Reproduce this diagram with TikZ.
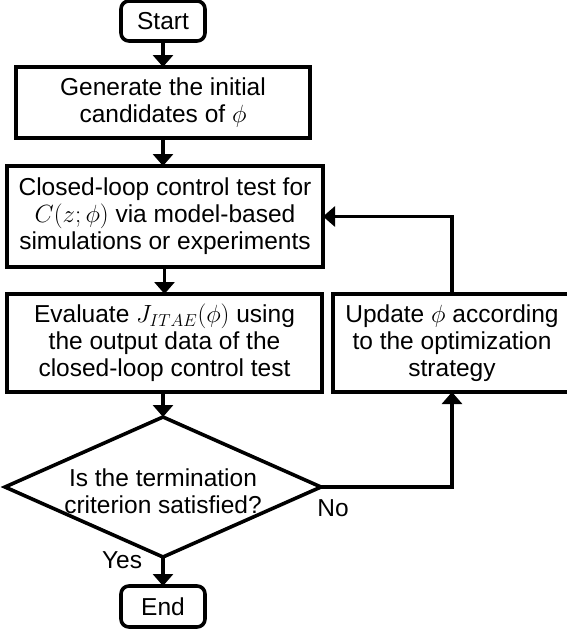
\documentclass[tikz,border=0pt]{standalone}
\usepackage{fontspec}
\setmainfont{Liberation Sans}
\usetikzlibrary{arrows.meta,shapes.geometric}
\begin{document}
\begin{tikzpicture}[x=1pt,y=-1pt,
  txt/.style={font=\fontsize{24.5}{27}\selectfont},
  box/.style={draw,line width=3.6pt,inner sep=0pt,outer sep=0pt,align=center,txt},
  term/.style={box,rounded corners=8pt},
  dec/.style={draw,diamond,line width=3.6pt,inner sep=0pt,outer sep=0pt},
  arr/.style={line width=3.6pt,-{Triangle[length=12pt,width=20pt]}},
  lab/.style={txt,inner sep=0pt}]
\useasboundingbox (0,0) rectangle (566,635);
\node[term,minimum width=84pt,minimum height=40pt] (start) at (163,21) {Start};
\node[box,minimum width=294pt,minimum height=71pt] (gen) at (163,102.5) {Generate the initial\\candidates of $\phi$};
\node[box,minimum width=316pt,minimum height=101pt] (closed) at (165,216.5) {Closed-loop control test for\\$C(z;\phi)$ via model-based\\simulations or experiments};
\node[box,minimum width=315pt,minimum height=98pt] (eval) at (164.5,343) {Evaluate $J_{ITAE}(\phi)$ using\\the output data of the\\closed-loop control test};
\node[box,minimum width=238pt,minimum height=98pt] (upd) at (452,343) {Update $\phi$ according\\to the optimization\\strategy};
\node[dec,minimum width=316pt,minimum height=140pt] (dia) at (163,487) {};
\node[lab,align=center] (diatext) at (163,491) {Is the termination\\criterion satisfied?};
\node[term,minimum width=84pt,minimum height=41pt] (end) at (163,606.5) {End};
\node[lab] (no) at (333,508) {No};
\node[lab] (yes) at (122,560) {Yes};
\draw[arr] (start) -- (gen);
\draw[arr] (gen) -- (gen |- closed.north);
\draw[arr] (closed.south -| eval) -- (eval);
\draw[arr] (eval.south -| dia) -- (dia);
\draw[arr] (dia) -- (end);
\draw[arr] (dia.east) -| (upd.south);
\draw[arr] (upd.north) |- (closed.east);
\end{tikzpicture}
\end{document}
